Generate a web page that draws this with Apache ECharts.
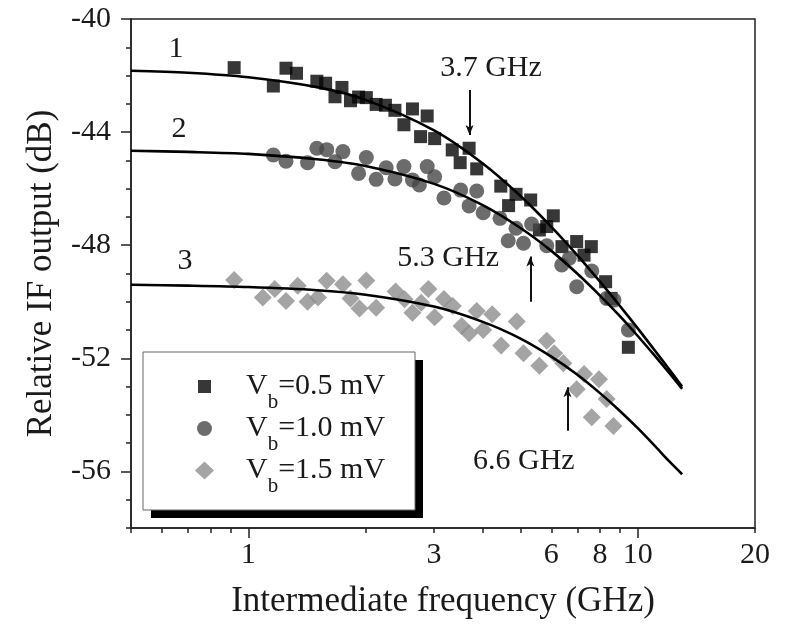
<!DOCTYPE html>
<html>
<head>
<meta charset="utf-8">
<script src="https://cdn.jsdelivr.net/npm/echarts@6/dist/echarts.min.js"></script>
<style>
  html, body { margin: 0; padding: 0; background: #fff; }
  #chart { width: 789px; height: 627px; }
</style>
</head>
<body>
<div id="chart"></div>
<script>
const FONT = '"Liberation Serif", "Times New Roman", Times, serif';
const INK = '#1a1a1a';

// Measured IF output, [frequency (GHz), relative output (dB)]
const vb05 = [
  [0.92, -41.72], [1.16, -42.37], [1.25, -41.74], [1.33, -41.92], [1.50, -42.20],
  [1.58, -42.27], [1.67, -42.75], [1.74, -42.42], [1.83, -42.89], [1.92, -42.76],
  [2.01, -42.78], [2.13, -43.02], [2.25, -43.05], [2.38, -43.23], [2.51, -43.74],
  [2.64, -43.18], [2.77, -44.16], [2.88, -43.43], [3.01, -44.23], [3.34, -44.63],
  [3.50, -45.08], [3.69, -44.57], [3.86, -45.30], [4.45, -45.91], [4.66, -46.60],
  [4.87, -46.20], [5.31, -46.40], [5.59, -47.46], [5.84, -47.34], [6.07, -46.96],
  [6.39, -48.05], [6.97, -47.87], [7.28, -48.35], [7.60, -48.05], [8.27, -49.29],
  [8.54, -49.88], [9.46, -51.61]
];
const vb10 = [
  [1.16, -44.81], [1.25, -45.03], [1.42, -45.08], [1.50, -44.57], [1.59, -44.62],
  [1.67, -45.05], [1.75, -44.69], [1.92, -45.46], [2.01, -44.90], [2.13, -45.67],
  [2.26, -45.26], [2.38, -45.66], [2.51, -45.22], [2.64, -45.69], [2.75, -45.87],
  [2.88, -45.22], [3.01, -45.58], [3.18, -46.33], [3.51, -46.05], [3.69, -46.61],
  [3.86, -46.08], [4.01, -46.85], [4.43, -47.05], [4.65, -47.84], [4.87, -47.40],
  [5.09, -47.93], [5.34, -47.25], [5.84, -48.02], [6.38, -48.70], [6.67, -48.46],
  [6.97, -49.47], [7.62, -48.91], [8.32, -49.88], [8.69, -49.94], [9.46, -51.00]
];
const vb15 = [
  [0.92, -49.23], [1.09, -49.85], [1.17, -49.55], [1.25, -49.97], [1.34, -49.43],
  [1.42, -50.00], [1.51, -49.85], [1.59, -49.26], [1.75, -49.38], [1.83, -49.88],
  [1.93, -50.24], [2.01, -49.25], [2.13, -50.21], [2.39, -49.64], [2.52, -49.91],
  [2.64, -50.39], [2.78, -50.03], [2.90, -49.55], [3.01, -50.55], [3.18, -49.90],
  [3.35, -50.15], [3.53, -50.86], [3.69, -51.11], [3.86, -50.33], [4.01, -51.00],
  [4.23, -50.44], [4.46, -51.55], [4.89, -50.70], [5.09, -51.82], [5.59, -52.26],
  [5.84, -51.38], [6.10, -51.82], [6.44, -52.17], [6.97, -53.09], [7.28, -52.55],
  [7.62, -54.08], [7.95, -52.74], [8.32, -53.44], [8.66, -54.39]
];

// Fitted roll-off curves sampled along frequency
const fitFreq = [0.5, 0.7, 1, 1.5, 2, 3, 4, 5, 6, 7, 8, 9, 10, 11, 12, 13];
const fit1 = [-41.83, -41.90, -42.06, -42.41, -42.86, -43.94, -45.11, -46.26,
              -47.35, -48.36, -49.29, -50.15, -50.94, -51.68, -52.36, -53.00];
const fit2 = [-44.66, -44.70, -44.77, -44.96, -45.20, -45.83, -46.58, -47.39,
              -48.20, -49.01, -49.78, -50.51, -51.21, -51.87, -52.49, -53.08];
const fit3 = [-49.40, -49.43, -49.48, -49.59, -49.75, -50.17, -50.71, -51.30,
              -51.94, -52.58, -53.23, -53.86, -54.47, -55.06, -55.62, -56.10];

// Roll-off frequencies (GHz) of the three curves
const rolloff = [3.7, 5.3, 6.6];

const seriesNames = ['Vb=0.5 mV', 'Vb=1.0 mV', 'Vb=1.5 mV'];
const curveTags = ['1', '2', '3'];

const xLabelValues = [1, 3, 6, 8, 10, 20];
const xMinorTicks = [0.5, 0.6, 0.7, 0.8, 0.9, 2, 3, 4, 5, 6, 7, 8, 9, 20];
const xMajorTicks = [1, 10];
const yLabelValues = [-56, -52, -48, -44, -40];
const yMinorTicks = [-58, -57, -56, -55, -54, -53, -52, -51, -50, -49, -48,
                     -47, -46, -45, -44, -43, -42, -41, -40];

const lg = Math.log10;
const toLog = pts => pts.map(([f, v]) => [lg(f), v]);
const curve = vals => fitFreq.map((f, i) => [lg(f), vals[i]]);

const X_MIN = lg(0.5), X_MAX = lg(20);

// Where the curve numbers and arrow annotations sit, in axis units
const tagPos = [[0.652, -41.06], [0.664, -43.89], [0.688, -48.56]];
const notePos = [[4.20, -41.73], [3.26, -48.45], [5.10, -55.63]];
const arrowSpan = [[-42.51, -44.10], [-50.0, -48.40], [-54.56, -53.02]];

const scatterStyles = [
  { symbol: 'rect', symbolSize: 13, color: '#050505' },
  { symbol: 'circle', symbolSize: 15, color: '#474747' },
  { symbol: 'diamond', symbolSize: 18, color: '#8d8d8d' }
];

// Legend icons drawn inside a common 19x18 cell so each keeps its own size
const legendIcons = [
  'path://M0,0M19,18M3,2.5h13v13h-13z',
  'path://M0,0M19,18M17,9A7.5,7.5,0,1,1,2,9A7.5,7.5,0,1,1,17,9z',
  'diamond'
];

const measured = [vb05, vb10, vb15];
const fits = [fit1, fit2, fit3];

const series = [];
measured.forEach((pts, i) => {
  series.push({
    name: seriesNames[i],
    type: 'scatter',
    symbol: scatterStyles[i].symbol,
    symbolSize: scatterStyles[i].symbolSize,
    itemStyle: { color: scatterStyles[i].color },
    data: toLog(pts),
    z: 2
  });
});
fits.forEach((vals, i) => {
  const fr = rolloff[i];
  series.push({
    name: 'fit' + (i + 1),
    type: 'line',
    data: curve(vals),
    smooth: 0.3,
    showSymbol: false,
    silent: true,
    z: 3,
    lineStyle: { color: '#000', width: 2.6 },
    markPoint: {
      silent: true,
      symbol: 'circle',
      symbolSize: 0,
      label: {
        show: true, position: 'inside', color: INK, fontFamily: FONT, fontSize: 30,
        formatter: p => p.name
      },
      data: [
        { name: curveTags[i], coord: [lg(tagPos[i][0]), tagPos[i][1]] },
        { name: fr.toFixed(1) + ' GHz', coord: [lg(notePos[i][0]), notePos[i][1]] }
      ]
    },
    markLine: {
      silent: true,
      symbol: ['none', 'arrow'],
      symbolSize: [6, 10],
      label: { show: false },
      lineStyle: { color: '#111', width: 2, type: 'solid' },
      data: [[
        { coord: [lg(fr), arrowSpan[i][0]] },
        { coord: [lg(fr), arrowSpan[i][1]] }
      ]]
    }
  });
});

const axisInk = { color: '#222', width: 1.5 };

const chart = echarts.init(document.getElementById('chart'), null, { renderer: 'canvas' });
chart.setOption({
  animation: false,
  backgroundColor: '#fff',
  textStyle: { fontFamily: FONT, color: INK },
  grid: {
    left: 131, right: 34, top: 19, bottom: 99,
    show: true, borderColor: '#222', borderWidth: 1.5, backgroundColor: 'transparent'
  },
  // legend frame with its offset solid shadow
  graphic: [
    { type: 'rect', z: 3, silent: true,
      shape: { x: 151, y: 360, width: 272, height: 158 }, style: { fill: '#000' } },
    { type: 'rect', z: 3, silent: true,
      shape: { x: 143, y: 352, width: 272, height: 158 },
      style: { fill: '#fff', stroke: '#666', lineWidth: 1 } }
  ],
  legend: {
    data: seriesNames.map((name, i) => ({ name: name, icon: legendIcons[i] })),
    orient: 'vertical',
    left: 195,
    top: 360,
    padding: 0,
    z: 5,
    itemWidth: 19,
    itemHeight: 18,
    itemGap: -11,
    backgroundColor: 'transparent',
    selectedMode: false,
    formatter: name => '{v|V}{sub|b}{txt|=' + name.split('=')[1] + '}',
    textStyle: {
      fontFamily: FONT,
      color: INK,
      fontSize: 30,
      lineHeight: 32,
      rich: {
        v: { fontFamily: FONT, fontSize: 30, lineHeight: 32, color: INK, padding: [0, 0, 0, 27] },
        txt: { fontFamily: FONT, fontSize: 30, lineHeight: 32, color: INK },
        sub: { fontFamily: FONT, fontSize: 21, lineHeight: 21, padding: [32, 0, 0, 0], color: INK }
      }
    }
  },
  xAxis: [
    {
      type: 'value', min: X_MIN, max: X_MAX, position: 'bottom',
      axisLine: { show: true, onZero: false, lineStyle: axisInk },
      axisTick: { show: true, customValues: xMinorTicks.map(lg), length: 5, lineStyle: axisInk },
      axisLabel: {
        customValues: xLabelValues.map(lg),
        formatter: v => String(Math.round(Math.pow(10, v))),
        fontFamily: FONT, fontSize: 30, color: INK, margin: 12
      },
      splitLine: { show: false },
      name: 'Intermediate frequency (GHz)',
      nameLocation: 'middle',
      nameGap: 56,
      nameTextStyle: { fontFamily: FONT, fontSize: 35, color: INK }
    },
    {
      type: 'value', min: X_MIN, max: X_MAX, position: 'bottom',
      axisLine: { show: false, onZero: false },
      axisTick: { show: true, customValues: xMajorTicks.map(lg), length: 10, lineStyle: axisInk },
      axisLabel: { show: false },
      splitLine: { show: false }
    }
  ],
  yAxis: [
    {
      type: 'value', min: -58, max: -40, position: 'left',
      axisLine: { show: true, onZero: false, lineStyle: axisInk },
      axisTick: { show: true, customValues: yMinorTicks, length: 5, lineStyle: axisInk },
      axisLabel: {
        customValues: yLabelValues,
        fontFamily: FONT, fontSize: 30, color: INK, margin: 20
      },
      splitLine: { show: false },
      name: 'Relative IF output (dB)',
      nameLocation: 'middle',
      nameGap: 72,
      nameTextStyle: { fontFamily: FONT, fontSize: 35, color: INK }
    },
    {
      type: 'value', min: -58, max: -40, position: 'left',
      axisLine: { show: false, onZero: false },
      axisTick: { show: true, customValues: yLabelValues, length: 10, lineStyle: axisInk },
      axisLabel: { show: false },
      splitLine: { show: false }
    }
  ],
  series: series
});
</script>
</body>
</html>
